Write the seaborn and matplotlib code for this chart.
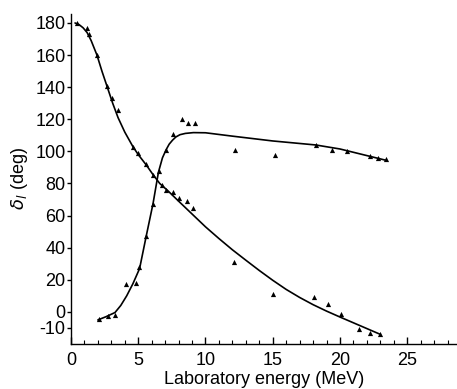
import matplotlib
matplotlib.use("Agg")
import matplotlib.pyplot as plt
import seaborn as sns
import pandas as pd
from matplotlib.ticker import MultipleLocator, FixedLocator, FixedFormatter

# Data points (triangles)
pts_a_x = [0.45, 1.2, 1.35, 1.9, 2.65, 3.05, 3.5, 4.6, 5.0, 5.6, 6.1, 6.8, 7.1, 7.6, 8.0, 8.6, 9.1,
           12.1, 15.0, 18.1, 19.1, 20.1, 21.4, 22.2, 23.0]
pts_a_y = [180, 177, 173, 160, 141, 133, 126, 103, 99, 92, 85, 79, 76, 75, 71, 69, 65,
           31, 11, 9, 5, -1, -10.5, -13, -14]
pts_b_x = [2.08, 2.75, 3.27, 4.1, 4.8, 5.06, 5.6, 6.1, 6.55, 7.07, 7.6, 8.26, 8.7, 9.2,
           12.2, 15.2, 18.2, 19.4, 20.5, 22.2, 22.8, 23.4]
pts_b_y = [-4.4, -2.5, -2.0, 17.5, 18, 28, 47.5, 67.5, 87.5, 100.6, 111, 120, 118, 117.5,
           101, 98, 104, 101, 100, 97, 96, 95]

# Fitted curves
curve_a_x = [0.3, 0.6, 0.9, 1.2, 1.5, 1.93, 2.3, 2.7, 3.1, 3.5, 4.0, 4.6, 5.0, 5.6, 6.1, 6.6,
             7.2, 8.0, 9.0, 10.0, 11.0, 12.0, 13.0, 14.0, 15.0, 16.0, 17.0, 18.0, 19.0, 20.0,
             21.0, 22.0, 23.0]
curve_a_y = [180, 179, 177, 174, 169, 160, 150, 140, 130, 121, 112, 103, 98, 91.5, 85.5, 80,
             75.5, 69, 61, 53, 45.7, 38.7, 32.2, 25.8, 19.7, 14, 9, 4.5, 0.5, -3.2,
             -6.8, -10.4, -14]
curve_b_x = [2.0, 2.6, 3.27, 3.7, 4.14, 4.6, 5.1, 5.6, 6.1, 6.5, 6.8, 7.07, 7.3, 7.55, 7.8,
             8.1, 8.5, 9.1, 10.0, 12.0, 15.0, 18.2, 20.0, 23.4]
curve_b_y = [-5, -3, -0.4, 4, 10, 17.5, 27, 47.5, 67.5, 87, 96, 101, 104.5, 107, 109,
             110.4, 111.2, 111.7, 111.6, 109.5, 106.5, 104, 101.5, 94.5]

yticks = [180, 160, 140, 120, 100, 80, 60, 40, 20, 0, -10]
ytick_labels = ["180", "160", "140", "120", "100", "80", "60", "40", "20", "0", "-10"]
xticks = [0, 5, 10, 15, 20, 25]
xtick_labels = ["0", "5", "10", "15", "20", "25"]

sns.set_style("white")
plt.rcParams["font.family"] = ["Liberation Sans", "DejaVu Sans"]
plt.rcParams["text.color"] = "black"
plt.rcParams["axes.labelcolor"] = "black"
plt.rcParams["xtick.color"] = "black"
plt.rcParams["ytick.color"] = "black"

fig = plt.figure(figsize=(4.57, 3.89), dpi=100)
ax = fig.add_axes([71 / 457, 45 / 389, 386 / 457, 330 / 389])

df_ca = pd.DataFrame({"x": curve_a_x, "y": curve_a_y})
df_cb = pd.DataFrame({"x": curve_b_x, "y": curve_b_y})
df_pa = pd.DataFrame({"x": pts_a_x, "y": pts_a_y})
df_pb = pd.DataFrame({"x": pts_b_x, "y": pts_b_y})

sns.lineplot(data=df_ca, x="x", y="y", ax=ax, color="black", lw=1.2, sort=False)
sns.lineplot(data=df_cb, x="x", y="y", ax=ax, color="black", lw=1.2, sort=False)
sns.scatterplot(data=df_pa, x="x", y="y", ax=ax, color="black", marker="^", s=14, linewidth=0)
sns.scatterplot(data=df_pb, x="x", y="y", ax=ax, color="black", marker="^", s=14, linewidth=0)

ax.set_xlim(0, 28.7)
ax.set_ylim(-20, 185.6)
ax.xaxis.set_major_locator(FixedLocator(xticks))
ax.xaxis.set_major_formatter(FixedFormatter(xtick_labels))
ax.xaxis.set_minor_locator(MultipleLocator(1))
ax.yaxis.set_major_locator(FixedLocator(yticks))
ax.yaxis.set_major_formatter(FixedFormatter(ytick_labels))

for s in ["top", "right"]:
    ax.spines[s].set_visible(False)
for s in ["left", "bottom"]:
    ax.spines[s].set_color("black")
    ax.spines[s].set_linewidth(1.0)

ax.tick_params(axis="x", which="major", direction="in", length=5, width=1, labelsize=13, pad=6,
               bottom=True, colors="black")
ax.tick_params(axis="x", which="minor", direction="in", length=3, width=0.8, bottom=True, colors="black")
ax.tick_params(axis="y", which="major", direction="out", length=3, width=1, labelsize=13, pad=1,
               left=True, colors="black")

ax.set_xlabel("Laboratory energy (MeV)", fontsize=13, labelpad=1, color="black")
ax.set_ylabel(r"$\delta_l$ (deg)", fontsize=13, labelpad=4, color="black")
ax.grid(False)

fig.savefig("out.png", dpi=100)
